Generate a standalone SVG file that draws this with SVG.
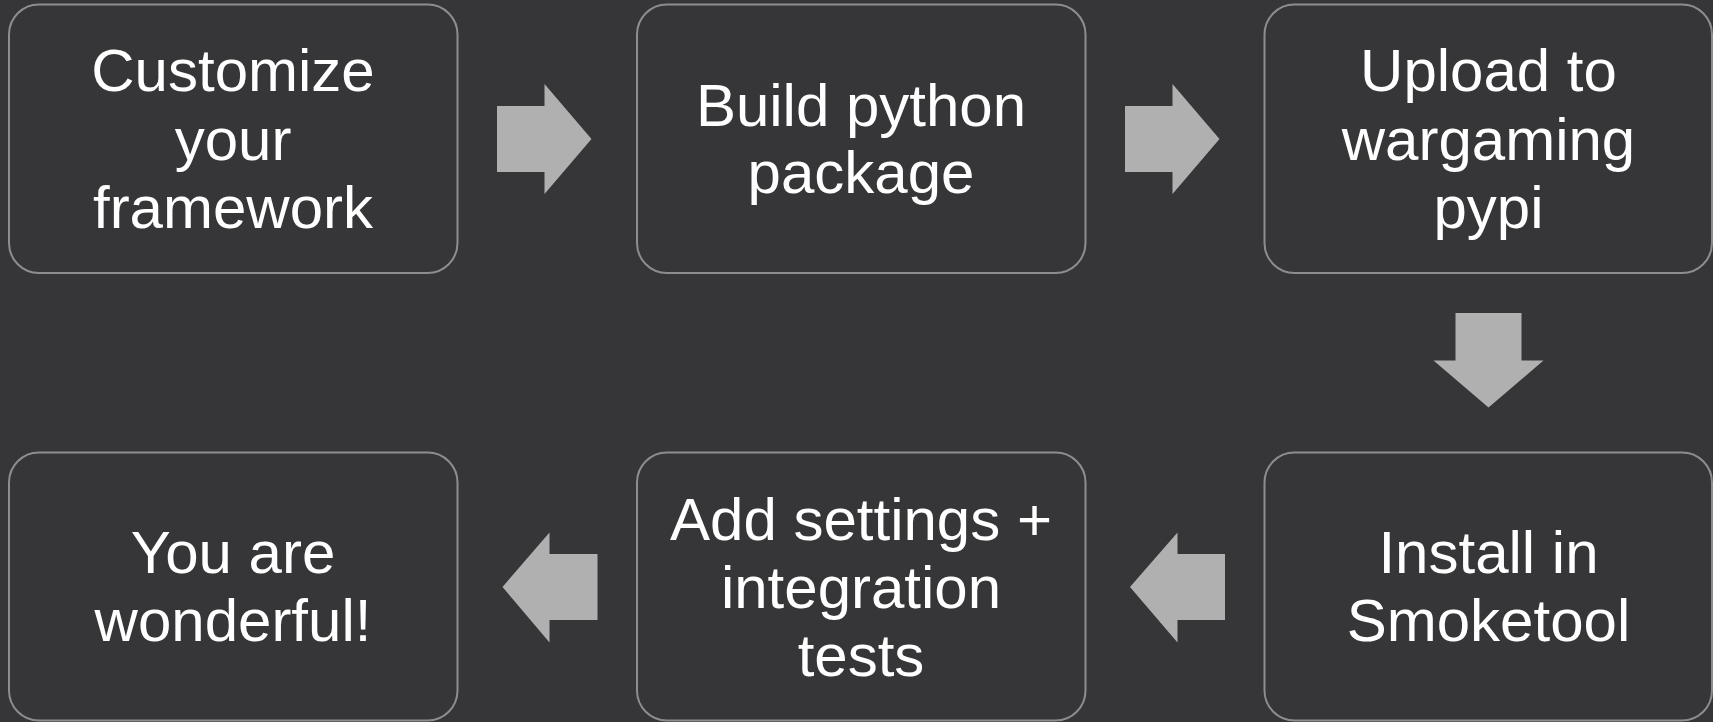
<svg xmlns="http://www.w3.org/2000/svg" width="1713" height="722" viewBox="0 0 1713 722">
<style>
.box{fill:#363638;stroke:#8d8d8d;stroke-width:2}
.lbl{font-family:"Liberation Sans",Arial,sans-serif;font-size:60px;fill:#ffffff;text-anchor:middle}
.arr{fill:#b0b0b0}
</style>
<rect width="1713" height="722" fill="#363638"/>
<g id="node-customize">
<rect class="box" x="9" y="4.5" width="448.5" height="268.5" rx="30"/>
<text class="lbl" x="233" y="91">Customize</text>
<text class="lbl" x="233" y="159.5">your</text>
<text class="lbl" x="233" y="228">framework</text>
</g>
<g id="node-build">
<rect class="box" x="637" y="4.5" width="448.5" height="268.5" rx="30"/>
<text class="lbl" x="861" y="125.5">Build python</text>
<text class="lbl" x="861" y="193">package</text>
</g>
<g id="node-upload">
<rect class="box" x="1264.5" y="4.5" width="447.5" height="268.5" rx="30"/>
<text class="lbl" x="1488.5" y="91">Upload to</text>
<text class="lbl" x="1488.5" y="159.5">wargaming</text>
<text class="lbl" x="1488.5" y="228">pypi</text>
</g>
<g id="node-wonderful">
<rect class="box" x="9" y="452.5" width="448.5" height="268" rx="30"/>
<text class="lbl" x="233" y="573">You are</text>
<text class="lbl" x="233" y="641">wonderful!</text>
</g>
<g id="node-settings">
<rect class="box" x="637" y="452.5" width="448.5" height="268" rx="30"/>
<text class="lbl" x="861" y="539.5">Add settings +</text>
<text class="lbl" x="861" y="607.5">integration</text>
<text class="lbl" x="861" y="675.5">tests</text>
</g>
<g id="node-install">
<rect class="box" x="1264.5" y="452.5" width="447.5" height="268" rx="30"/>
<text class="lbl" x="1488.5" y="573">Install in</text>
<text class="lbl" x="1488.5" y="641">Smoketool</text>
</g>
<g id="connectors">
<polygon class="arr" points="497,106 544.5,106 544.5,84 591.5,139 544.5,194 544.5,172 497,172"/>
<polygon class="arr" points="1125,106 1172.5,106 1172.5,84 1219.5,139 1172.5,194 1172.5,172 1125,172"/>
<polygon class="arr" points="1455.5,313 1521.5,313 1521.5,360.5 1543.5,360.5 1488.5,407.5 1433.5,360.5 1455.5,360.5"/>
<polygon class="arr" points="1225,554 1177.5,554 1177.5,532.5 1130,587 1177.5,642.5 1177.5,620 1225,620"/>
<polygon class="arr" points="597.5,554 549.5,554 549.5,532.5 502.5,587 549.5,642.5 549.5,620 597.5,620"/>
</g>
</svg>
